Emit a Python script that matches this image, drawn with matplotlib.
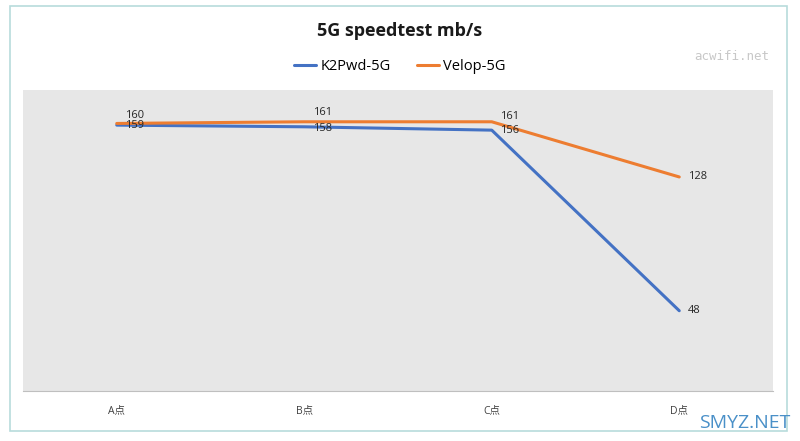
import matplotlib.pyplot as plt
from matplotlib.patches import Rectangle

plt.rcParams['font.family'] = ['Open Sans', 'Noto Sans CJK SC', 'DejaVu Sans']

categories = ['A点', 'B点', 'C点', 'D点']
k2pwd = [159, 158, 156, 48]
velop = [160, 161, 161, 128]
# label vertical nudges (points), like Excel's auto placement
k2_dy = [0, -1, 0, 0]
velop_dy = [6, 7, 4, 0]

fig = plt.figure(figsize=(8, 4.41), dpi=100)
ax = fig.add_axes([0.02875, 0.1134, 0.9375, 0.6825])
ax.set_facecolor('#e7e7e7')

x = list(range(len(categories)))
ax.plot(x, k2pwd, color='#4472c4', lw=2.2, label='K2Pwd-5G', solid_capstyle='round')
ax.plot(x, velop, color='#ed7d31', lw=2.2, label='Velop-5G', solid_capstyle='round')

for i, v in enumerate(k2pwd):
    ax.annotate(str(v), (i, v), xytext=(6, k2_dy[i]), textcoords='offset points',
                va='center', ha='left', fontsize=8, color='#262626')
for i, v in enumerate(velop):
    ax.annotate(str(v), (i, v), xytext=(6, velop_dy[i]), textcoords='offset points',
                va='center', ha='left', fontsize=8, color='#262626')

ax.set_xlim(-0.5, len(categories) - 0.5)
ax.set_ylim(0, 180)
ax.set_xticks(x)
ax.set_xticklabels(categories, fontsize=7.5, color='#404040')
ax.tick_params(axis='x', length=0, pad=10)
ax.set_yticks([])
for s in ['top', 'left', 'right']:
    ax.spines[s].set_visible(False)
ax.spines['bottom'].set_color('#bfbfbf')

fig.text(0.5, 0.93, '5G speedtest mb/s', ha='center', va='center',
         fontsize=13, fontweight='bold', color='#1a1a1a')
fig.legend(loc='center', bbox_to_anchor=(0.5, 0.85), ncol=2, frameon=False,
           fontsize=10.5, handlelength=1.5, columnspacing=1.8, handletextpad=0.3)

# watermarks
fig.text(0.868, 0.872, 'acwifi.net', family='DejaVu Sans Mono', fontsize=9,
         color='#c8c8c8', ha='left', va='center')
fig.text(0.931, 0.04, 'SMYZ.NET', fontsize=14, color='#4a90c8', ha='center', va='center')

# chart frame
fig.patches.append(Rectangle((0.012, 0.022), 0.972, 0.965, transform=fig.transFigure,
                             fill=False, edgecolor='#b8dcdc', lw=1.2))

fig.savefig('out.png', dpi=100, facecolor='white')
